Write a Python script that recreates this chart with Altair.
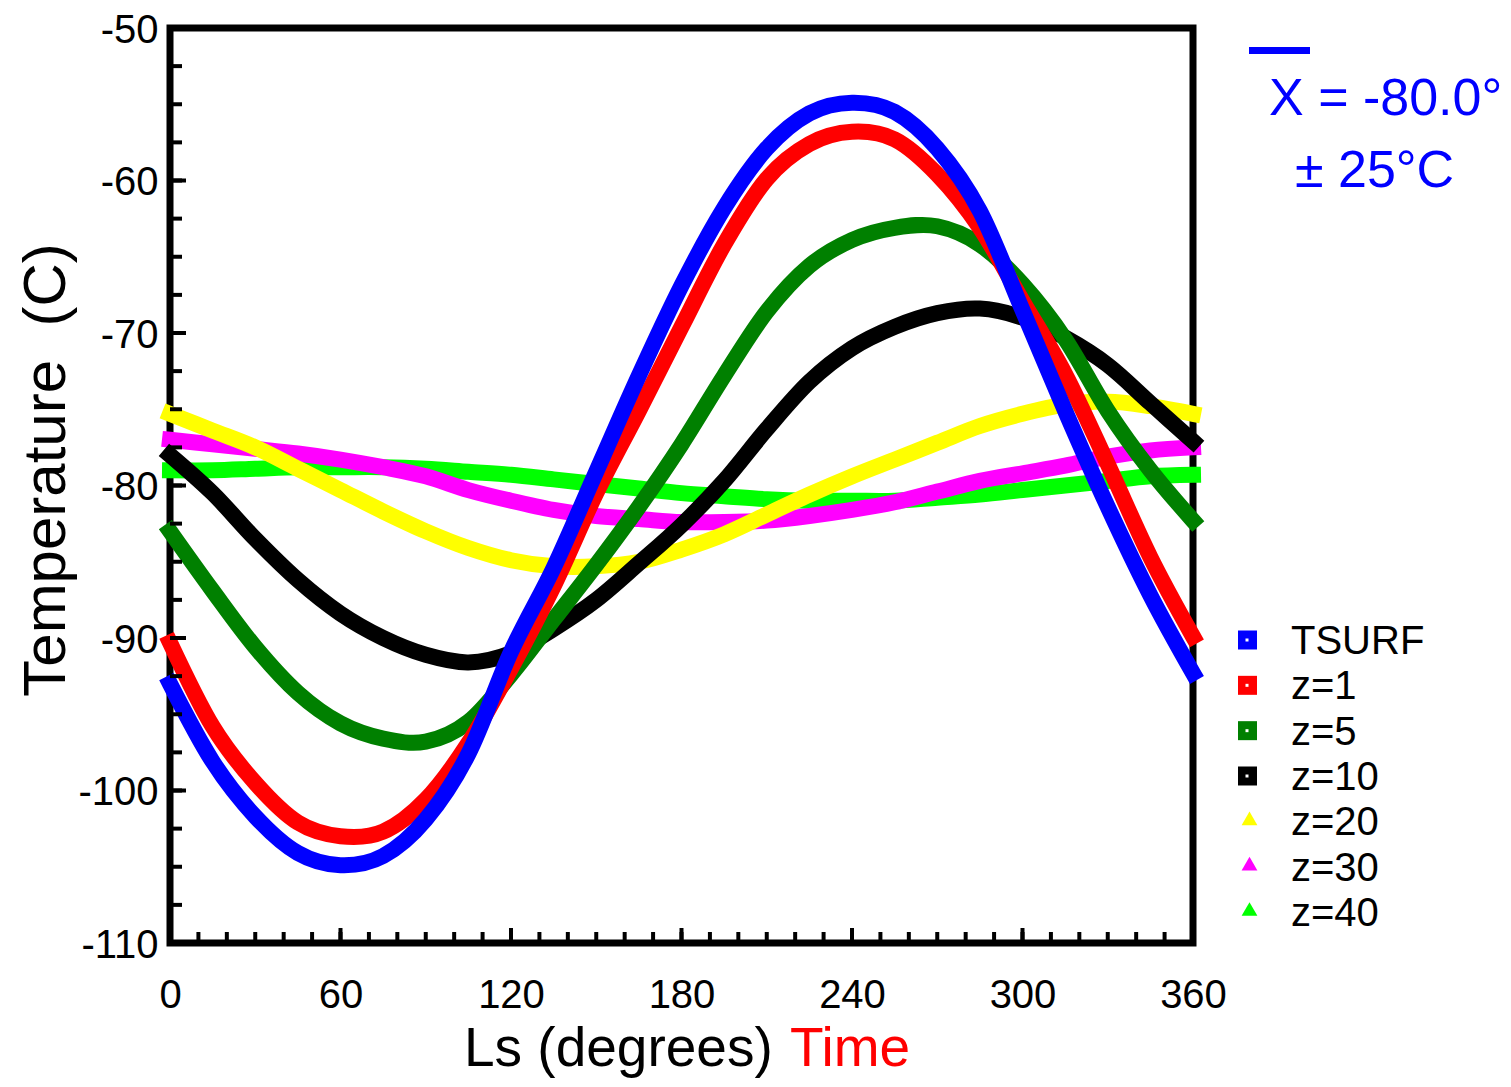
import altair as alt
import pandas as pd

# ---------------- data ----------------
LS = [0, 15, 30, 45, 60, 75, 90, 105, 120, 135, 150, 165, 180,
      195, 210, 225, 240, 255, 270, 285, 300, 315, 330, 345, 360]

TSURF = [-93.0, -98.1, -101.7, -104.1, -104.9, -104.3, -101.9, -97.6, -90.9,
         -85.4, -79.1, -72.8, -66.9, -61.8, -57.9, -55.6, -54.9, -55.5, -57.9,
         -62.0, -68.5, -75.1, -81.4, -87.2, -92.3]
Z1 = [-90.3, -95.8, -99.5, -102.1, -103.0, -102.7, -100.6, -96.9, -92.0,
      -86.6, -80.5, -75.1, -69.6, -64.2, -59.9, -57.6, -56.8, -57.3, -59.6,
      -63.1, -67.9, -72.7, -78.6, -84.7, -89.9]
Z5 = [-83.0, -86.9, -90.6, -93.6, -95.6, -96.6, -96.8, -95.5, -92.4,
      -88.8, -85.2, -81.4, -77.3, -72.8, -68.6, -65.6, -63.9, -63.1, -63.0,
      -64.2, -66.8, -70.4, -75.1, -79.0, -82.3]
Z10 = [-78.0, -80.5, -83.5, -86.2, -88.4, -90.0, -91.1, -91.6, -91.0,
       -89.4, -87.5, -85.1, -82.6, -79.7, -76.3, -73.2, -71.0, -69.6, -68.7,
       -68.4, -69.0, -70.3, -72.1, -74.6, -77.1]
Z20 = [-75.3, -76.4, -77.5, -78.9, -80.3, -81.7, -83.0, -84.1, -84.9,
       -85.3, -85.3, -85.0, -84.2, -83.2, -81.9, -80.6, -79.4, -78.3, -77.2,
       -76.1, -75.3, -74.7, -74.5, -74.8, -75.3]
Z30 = [-77.0, -77.3, -77.6, -77.9, -78.3, -78.8, -79.4, -80.3, -81.0,
       -81.6, -82.0, -82.2, -82.4, -82.4, -82.3, -82.0, -81.6, -81.1, -80.4,
       -79.7, -79.2, -78.7, -78.1, -77.7, -77.5]
Z40 = [-79.0, -79.0, -78.9, -78.8, -78.8, -78.8, -78.9, -79.1, -79.3,
       -79.6, -79.9, -80.2, -80.5, -80.7, -80.9, -81.0, -81.0, -81.0, -80.8,
       -80.6, -80.3, -80.0, -79.7, -79.4, -79.3]

SERIES = ["TSURF", "z=1", "z=5", "z=10", "z=20", "z=30", "z=40"]
VALUES = [TSURF, Z1, Z5, Z10, Z20, Z30, Z40]
COLORS = ["#0000ff", "#ff0000", "#008000", "#000000", "#ffff00", "#ff00ff", "#00ff00"]

X_LABELS = [0, 60, 120, 180, 240, 300, 360]
X_MINOR = [0, 10, 20, 30, 40, 50, 60, 70, 80, 90, 100, 110, 120, 130, 140, 150,
           160, 170, 180, 190, 200, 210, 220, 230, 240, 250, 260, 270, 280, 290,
           300, 310, 320, 330, 340, 350, 360]
Y_LABELS = [-110, -100, -90, -80, -70, -60, -50]
Y_MINOR = [-110, -107.5, -105, -102.5, -100, -97.5, -95, -92.5, -90, -87.5, -85,
           -82.5, -80, -77.5, -75, -72.5, -70, -67.5, -65, -62.5, -60, -57.5,
           -55, -52.5, -50]

ANNOT1 = "X = -80.0°"
ANNOT2 = "± 25°C"
YTITLE = "Temperature \u00a0(C)"
XTITLE1 = "Ls (degrees)"
XTITLE2 = "Time"

# ---------------- build ----------------
rows = []
for name, vals in zip(SERIES, VALUES):
    for ls, t in zip(LS, vals):
        rows.append({"series": name, "Ls": ls, "T": t})
df = pd.DataFrame(rows)

FONT = "Liberation Sans"
W, H = 1023, 915

xscale = alt.Scale(domain=[0, 360], nice=False, zero=False)
yscale = alt.Scale(domain=[-110, -50], nice=False, zero=False)
xaxis = alt.Axis(values=X_LABELS, title=None, domain=False, ticks=False, grid=False,
                 labelFontSize=40, labelFont=FONT, labelColor="black",
                 labelPadding=32, labelFlush=False, labelOverlap=False,
                 labelExpr="'' + datum.value")
yaxis = alt.Axis(values=Y_LABELS, title=None, domain=False, ticks=False, grid=False,
                 labelFontSize=40, labelFont=FONT, labelColor="black",
                 labelPadding=12, labelOffset=2, labelFlush=False, labelOverlap=False,
                 labelExpr="'' + datum.value")
color = alt.Color("series:N", scale=alt.Scale(domain=SERIES, range=COLORS), legend=None)

base = alt.Chart(df).mark_line(strokeWidth=16, strokeCap="square",
                               interpolate="cardinal").encode(
    x=alt.X("Ls:Q", scale=xscale, axis=xaxis),
    y=alt.Y("T:Q", scale=yscale, axis=yaxis),
    color=color,
)
series_layers = [base.transform_filter(alt.datum.series == s) for s in reversed(SERIES)]

ytick_minor = alt.Chart(pd.DataFrame({"T": Y_MINOR})).mark_rule(
    color="black", strokeWidth=4).encode(
    y=alt.Y("T:Q", scale=yscale, axis=yaxis), x=alt.value(0), x2=alt.value(12))
ytick_major = alt.Chart(pd.DataFrame({"T": Y_LABELS})).mark_rule(
    color="black", strokeWidth=4).encode(
    y=alt.Y("T:Q", scale=yscale, axis=yaxis), x=alt.value(0), x2=alt.value(16))
xtick_minor = alt.Chart(pd.DataFrame({"Ls": X_MINOR})).mark_rule(
    color="black", strokeWidth=4).encode(
    x=alt.X("Ls:Q", scale=xscale, axis=xaxis), y=alt.value(H), y2=alt.value(H - 11))
xtick_major = alt.Chart(pd.DataFrame({"Ls": X_LABELS})).mark_rule(
    color="black", strokeWidth=4).encode(
    x=alt.X("Ls:Q", scale=xscale, axis=xaxis), y=alt.value(H), y2=alt.value(H - 15))

inner = alt.layer(*series_layers, ytick_minor, ytick_major, xtick_minor, xtick_major)

# legend (manual)
leg = pd.DataFrame({"series": SERIES, "row": list(range(len(SERIES)))})
lys = alt.Scale(domain=[0, 6], range=[612, 884])
leg_sq = alt.Chart(leg).transform_filter(alt.datum.row < 4).mark_point(
    shape="square", filled=True, opacity=1, size=361).encode(
    x=alt.value(1077.5), y=alt.Y("row:Q", scale=lys, axis=None), color=color)
leg_dot = alt.Chart(leg).transform_filter(alt.datum.row < 4).mark_point(
    shape="square", filled=True, opacity=1, size=9, color="white").encode(
    x=alt.value(1077), y=alt.Y("row:Q", scale=lys, axis=None))
leg_tri = alt.Chart(leg).transform_filter(alt.datum.row >= 4).mark_point(
    shape="triangle-up", filled=True, opacity=1, size=250).encode(
    x=alt.value(1079.5), y=alt.Y("row:Q", scale=lys, axis=None), color=color,
    yOffset=alt.value(-3))
leg_txt = alt.Chart(leg).mark_text(
    align="left", baseline="middle", fontSize=40, font=FONT, color="black", dy=2).encode(
    x=alt.value(1121), y=alt.Y("row:Q", scale=lys, axis=None), text="series:N")

one = pd.DataFrame({"k": [0]})
annot_line = alt.Chart(one).mark_rule(color="#0000ff", strokeWidth=7).encode(
    x=alt.value(1079), x2=alt.value(1140), y=alt.value(22.5))
annot1 = alt.Chart(one).mark_text(
    text=ANNOT1, align="left", baseline="alphabetic", fontSize=52, font=FONT,
    color="#0000ff").encode(x=alt.value(1099), y=alt.value(87))
annot2 = alt.Chart(one).mark_text(
    text=ANNOT2, align="left", baseline="alphabetic", fontSize=52, font=FONT,
    color="#0000ff").encode(x=alt.value(1125), y=alt.value(159))
ytitle = alt.Chart(one).mark_text(
    text=YTITLE, align="center", baseline="alphabetic", fontSize=60, font=FONT,
    color="black", angle=270).encode(x=alt.value(-105), y=alt.value(442))
xtitle1 = alt.Chart(one).mark_text(
    text=XTITLE1, align="left", baseline="alphabetic", fontSize=55, font=FONT,
    color="black").encode(x=alt.value(294), y=alt.value(1038))
xtitle2 = alt.Chart(one).mark_text(
    text=XTITLE2, align="left", baseline="alphabetic", fontSize=55, font=FONT,
    color="#ff0000").encode(x=alt.value(620), y=alt.value(1038))

chart = alt.layer(
    inner, leg_sq, leg_dot, leg_tri, leg_txt,
    annot_line, annot1, annot2, ytitle, xtitle1, xtitle2,
).resolve_scale(y="independent").properties(
    width=W, height=H,
    padding={"left": 162, "top": 20, "right": 310, "bottom": 136},
    autosize=alt.AutoSizeParams(type="none"),
    background="white",
).configure_view(stroke="black", strokeWidth=7)

chart.save("out.html", embed_options={"renderer": "svg", "actions": False})
